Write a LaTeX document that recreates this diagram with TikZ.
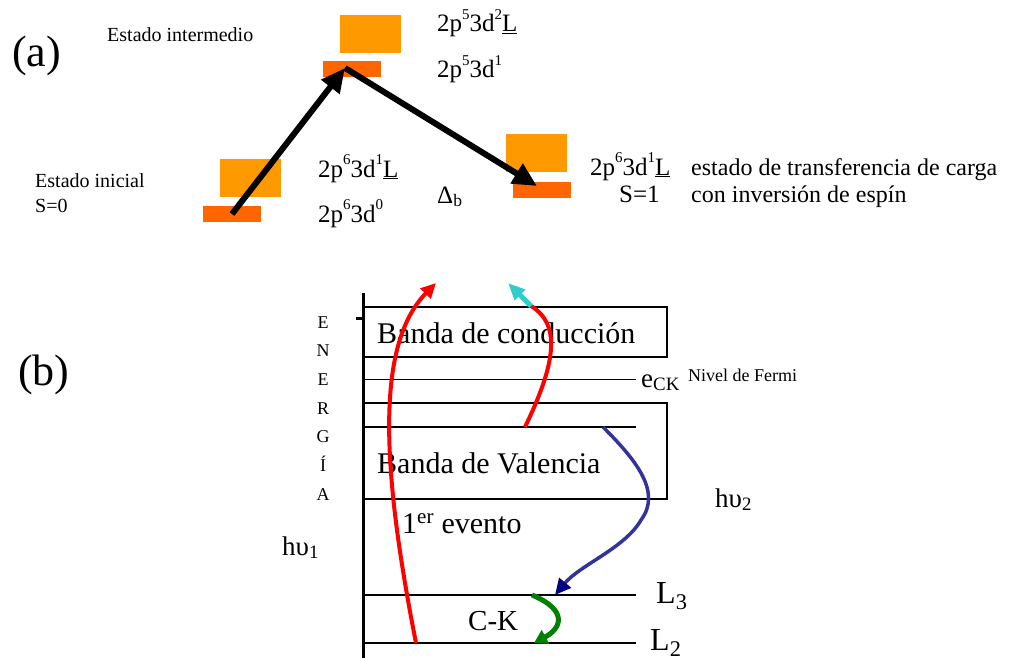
\documentclass[tikz,border=0pt]{standalone}
\usepackage{fontspec}
\setmainfont{Liberation Serif}
\usetikzlibrary{arrows.meta,positioning}
\definecolor{orbox}{HTML}{FF9900}
\definecolor{orbar}{HTML}{FF6600}
\definecolor{evred}{HTML}{FF0000}
\definecolor{evcyan}{HTML}{33CCCC}
\definecolor{evblue}{HTML}{333399}
\definecolor{evnavy}{HTML}{000080}
\definecolor{evgreen}{HTML}{008000}
\newcommand{\cfgsup}[1]{\raisebox{0.5em}{\fontsize{15}{15}\selectfont #1}}
\begin{document}
\begin{tikzpicture}[x=1pt, y=-1pt,
    lvl/.style={fill=orbox, inner sep=0pt, minimum width=61pt, minimum height=38pt},
    bar/.style={fill=orbar, inner sep=0pt, minimum width=58pt, minimum height=16pt},
    txt/.style={anchor=base west, inner sep=0pt, font=\fontsize{25}{30}\selectfont},
    sml/.style={anchor=base west, inner sep=0pt, font=\fontsize{20}{24}\selectfont},
    big/.style={anchor=base west, inner sep=0pt, font=\fontsize{30}{36}\selectfont},
    tag/.style={anchor=base west, inner sep=0pt, font=\fontsize{44}{50}\selectfont},
    axlbl/.style={anchor=base, inner sep=0pt, font=\fontsize{18}{22}\selectfont},
    band/.style={draw, line width=2pt, inner sep=0pt},
    jump/.style={-{Triangle[length=24pt,width=22pt]}, line width=6pt},
    ev1/.style={-{Triangle[length=15pt,width=14pt]}, line width=4pt, evred},
    ev2/.style={-{Triangle[length=16pt,width=15pt,color=evnavy]}, line width=3.5pt, evblue},
    ck/.style={-{Triangle[length=13pt,width=15pt]}, line width=5pt, evgreen}
]
\useasboundingbox (0,0) rectangle (1022,658);

\node[tag] (la) at (12,67) {(a)};
\node[sml] (inter-t) at (107,42) {Estado intermedio};
\node[lvl] (interL) at (370,34) {};
\node[bar] (inter) at (352,69.5) {};
\node[txt] (c1) at (437,32) {2p\cfgsup{5}3d\cfgsup{2}\underline{L}};
\node[txt] (c2) at (437,78) {2p\cfgsup{5}3d\cfgsup{1}};

\node[sml] (ini-t) at (35,187) {Estado inicial};
\node[sml] (ini-s) at (35,212) {S=0};
\node[lvl] (iniL) at (250,178) {};
\node[bar] (ini) at (232,214) {};
\node[txt] (c3) at (318,177) {2p\cfgsup{6}3d\cfgsup{1}\underline{L}};
\node[txt] (c4) at (318,222) {2p\cfgsup{6}3d\cfgsup{0}};
\node[txt] (delta) at (437,203) {Δ\textsubscript{b}};

\node[lvl] (finL) at (536.5,153) {};
\node[bar] (fin) at (541.5,190) {};
\node[txt] (c5) at (590,175) {2p\cfgsup{6}3d\cfgsup{1}\underline{L}};
\node[txt] (fin-s) at (619,202) {S=1};
\node[txt, font=\fontsize{24}{28}\selectfont] (fin-t1) at (691,175) {estado de transferencia de carga};
\node[txt, font=\fontsize{24}{28}\selectfont] (fin-t2) at (691,202) {con inversión de espín};

\coordinate (top) at (345,68);
\coordinate (end) at (537,186);
\draw[jump] (ini.center) -- (top);
\draw[jump] (top) -- (end);

\node[tag] (lb) at (18,385) {(b)};
\coordinate (axtop) at (363,293);
\coordinate (axbot) at (363,660);
\draw[line width=3pt] (axtop) -- (axbot);
\draw[line width=3pt] (356,318) -- (363,318);
\foreach \ch [count=\i] in {E,N,E,R,G,Í,A}
  \node[axlbl] (en\i) at (323,{328+28.7*(\i-1)}) {\ch};

\node[band, minimum width=303pt, minimum height=50pt] (cb) at (515.5,332) {};
\node[band, minimum width=304pt, minimum height=96pt] (vb) at (515,451) {};
\node[big] (cb-t) at (377,343) {Banda de conducción};
\node[big] (vb-t) at (377,473) {Banda de Valencia};

\coordinate (ef0) at (363,379);
\coordinate (ef1) at (636,379);
\draw[line width=1pt] (ef0) -- (ef1);
\node[anchor=base west, inner sep=0pt, font=\fontsize{27}{30}\selectfont] (eck) at (641,387) {e\textsubscript{CK}};
\node[anchor=base west, inner sep=0pt, font=\fontsize{18}{22}\selectfont] (fermi) at (688,381) {Nivel de Fermi};

\coordinate (v0) at (363,427);
\coordinate (v1) at (636,427);
\coordinate (l30) at (363,595);
\coordinate (l31) at (636,595);
\coordinate (l20) at (363,643);
\coordinate (l21) at (636,643);
\draw[line width=2pt] (v0) -- (v1);
\draw[line width=2pt] (l30) -- (l31);
\draw[line width=2pt] (l20) -- (l21);
\node[anchor=base west, inner sep=0pt, font=\fontsize{32}{36}\selectfont] (L3) at (656,603) {L\textsubscript{3}};
\node[anchor=base west, inner sep=0pt, font=\fontsize{32}{36}\selectfont] (L2) at (650,650) {L\textsubscript{2}};
\node[anchor=base west, inner sep=0pt, font=\fontsize{29}{34}\selectfont] (ck-t) at (468,630) {C-K};
\node[big] (ev-t) at (402,533) {1\textsuperscript{er} evento};
\node[anchor=base west, inner sep=0pt, font=\fontsize{27}{30}\selectfont] (hv1) at (282,555) {hυ\textsubscript{1}};
\node[anchor=base west, inner sep=0pt, font=\fontsize{27}{30}\selectfont] (hv2) at (715,507) {hυ\textsubscript{2}};

\coordinate (r1a) at (416,643);
\coordinate (r1b) at (436,283);
\coordinate (r2a) at (525,427);
\coordinate (r2b) at (531,306);
\coordinate (r2c) at (508,283);
\coordinate (b1) at (603,427);
\coordinate (b2) at (555,595);
\coordinate (g1) at (532,595);
\coordinate (g2) at (534,643);
\draw[ev1] (r1a) .. controls (382,470) and (375,345) .. (r1b);
\draw[line width=4pt, evred] (r2a) .. controls (555,365) and (562,325) .. (r2b);
\draw[-{Triangle[length=17pt,width=14pt]}, line width=5pt, evcyan] (r2b) -- (r2c);
\draw[ev2] (b1) .. controls (636,460) and (662,492) .. (641,520) .. controls (625,548) and (580,565) .. (b2);
\draw[ck] (g1) .. controls (568,610) and (562,628) .. (g2);
\end{tikzpicture}
\end{document}
